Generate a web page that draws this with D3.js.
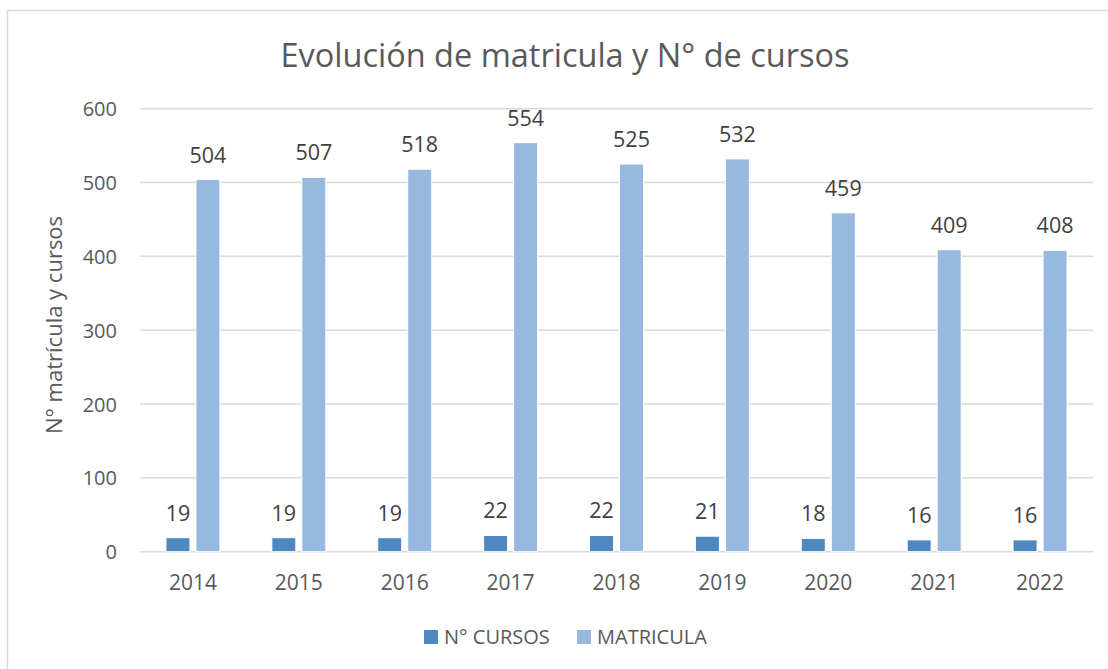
<!DOCTYPE html>
<html>
<head>
<meta charset="utf-8">
<script src="https://cdn.jsdelivr.net/npm/d3@7"></script>
<style>
  body { margin: 0; background: #fff; }
  text { font-family: "Open Sans", sans-serif; }
</style>
</head>
<body>
<svg id="chart" width="1108" height="669"></svg>
<script>
var years = ["2014", "2015", "2016", "2017", "2018", "2019", "2020", "2021", "2022"];
var cursos = [19, 19, 19, 22, 22, 21, 18, 16, 16];
var matricula = [504, 507, 518, 554, 525, 532, 459, 409, 408];
var seriesNames = ["N° CURSOS", "MATRICULA"];
var yTicks = [0, 100, 200, 300, 400, 500, 600];

var colors = d3.scaleOrdinal().domain(seriesNames).range(["#4f88c0", "#97b9e0"]);

var svg = d3.select("#chart");

// outer frame (runs off the page on right/bottom)
svg.append("rect")
	.attr("x", 7.5).attr("y", 10.5)
	.attr("width", 1120).attr("height", 680)
	.attr("fill", "none")
	.attr("stroke", "#d9d9d9")
	.attr("stroke-width", 1.5);

var plot = {left: 140, right: 1093, top: 108.7, bottom: 551.7};

var x0 = d3.scaleBand()
	.domain(years)
	.range([plot.left, plot.right])
	.paddingInner(0.49)
	.paddingOuter(0.245);

var x1 = d3.scaleBand()
	.domain(seriesNames)
	.range([0, x0.bandwidth()])
	.paddingInner(0.2);

var y = d3.scaleLinear()
	.domain([0, 600])
	.range([plot.bottom, plot.top]);

// gridlines
svg.append("g")
	.selectAll("line")
	.data(yTicks)
	.join("line")
	.attr("x1", plot.left).attr("x2", plot.right)
	.attr("y1", d => y(d)).attr("y2", d => y(d))
	.attr("stroke", "#d9d9d9")
	.attr("stroke-width", 1.5);

// y tick labels
svg.append("g")
	.selectAll("text")
	.data(yTicks)
	.join("text")
	.attr("x", 117)
	.attr("y", d => y(d) + 7.5)
	.attr("text-anchor", "end")
	.attr("fill", "#595959")
	.style("font-size", "20px")
	.text(d => d);

// x tick labels
svg.append("g")
	.selectAll("text")
	.data(years)
	.join("text")
	.attr("x", d => x0(d) + x0.bandwidth() / 2)
	.attr("y", 590)
	.attr("text-anchor", "middle")
	.attr("fill", "#595959")
	.style("font-size", "21px")
	.text(d => d);

var rows = years.map(function(yr, i) {
	return {year: yr, values: [
		{key: seriesNames[0], value: cursos[i]},
		{key: seriesNames[1], value: matricula[i]}
	]};
});

var groups = svg.append("g")
	.selectAll("g")
	.data(rows)
	.join("g")
	.attr("transform", d => "translate(" + x0(d.year) + ",0)");

groups.selectAll("rect")
	.data(d => d.values)
	.join("rect")
	.attr("x", d => x1(d.key))
	.attr("y", d => y(d.value))
	.attr("width", x1.bandwidth())
	.attr("height", d => y(0) - y(d.value))
	.attr("fill", d => colors(d.key))
	.attr("stroke", "#ffffff")
	.attr("stroke-width", 1);

groups.selectAll("text")
	.data(d => d.values)
	.join("text")
	.attr("x", d => x1(d.key) + x1.bandwidth() / 2)
	.attr("y", d => y(d.value) - 17)
	.attr("text-anchor", "middle")
	.attr("fill", "#404040")
	.style("font-size", "21.5px")
	.text(d => d.value);

// title
svg.append("text")
	.attr("x", 565)
	.attr("y", 67)
	.attr("text-anchor", "middle")
	.attr("fill", "#595959")
	.style("font-size", "32.5px")
	.text("Evolución de matricula y N° de cursos");

// y axis title
svg.append("text")
	.attr("transform", "translate(62,325) rotate(-90)")
	.attr("text-anchor", "middle")
	.attr("fill", "#595959")
	.style("font-size", "22px")
	.text("N° matrícula y cursos");

// legend
var legendX = [424, 577];
var legend = svg.append("g")
	.selectAll("g")
	.data(seriesNames)
	.join("g")
	.attr("transform", (d, i) => "translate(" + legendX[i] + ",630)");

legend.append("rect")
	.attr("width", 14).attr("height", 14)
	.attr("fill", d => colors(d));

legend.append("text")
	.attr("x", 20)
	.attr("y", 14)
	.attr("fill", "#595959")
	.style("font-size", "20px")
	.text(d => d);
</script>
</body>
</html>
